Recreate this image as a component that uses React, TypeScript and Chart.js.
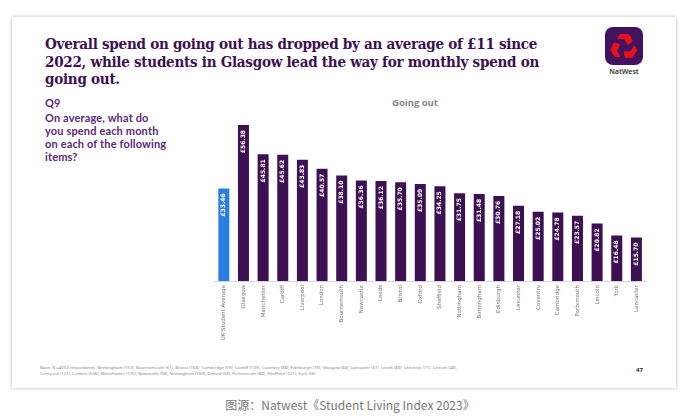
import React, { useEffect, useRef } from "react";
import { Chart, registerables } from "chart.js";

Chart.register(...registerables);

const categories = [
  "UK Student Average", "Glasgow", "Manchester", "Cardiff", "Liverpool", "London",
  "Bournemouth", "Newcastle", "Leeds", "Bristol", "Oxford", "Sheffield",
  "Nottingham", "Birmingham", "Edinburgh", "Leicester", "Coventry", "Cambridge",
  "Portsmouth", "Lincoln", "York", "Lancaster",
];
const spend = [
  33.46, 56.38, 45.81, 45.62, 43.83, 40.57, 38.1, 36.36, 36.12, 35.7, 35.09, 34.25,
  31.75, 31.48, 30.76, 27.18, 25.02, 24.78, 23.57, 20.82, 16.48, 15.7,
];
const yMin = 0;
const yMax = 60;

const PURPLE = "#3c1053";
const BLUE = "#2a7de1";

const valueLabels = {
  id: "valueLabels",
  afterDatasetsDraw(chart: any) {
    const ctx = chart.ctx;
    const meta = chart.getDatasetMeta(0);
    ctx.save();
    ctx.fillStyle = "#ffffff";
    ctx.font = "bold 6px 'DejaVu Sans', sans-serif";
    ctx.textAlign = "right";
    ctx.textBaseline = "middle";
    meta.data.forEach((bar: any, i: number) => {
      ctx.save();
      ctx.translate(bar.x, bar.y + 5);
      ctx.rotate(-Math.PI / 2);
      ctx.fillText("£" + spend[i].toFixed(2), 0, 0);
      ctx.restore();
    });
    ctx.restore();
  },
};

function BarChart() {
  const ref = useRef<HTMLCanvasElement>(null);
  useEffect(() => {
    if (!ref.current) return;
    const chart = new Chart(ref.current, {
      type: "bar",
      data: {
        labels: categories,
        datasets: [
          {
            data: spend,
            backgroundColor: categories.map((_, i) => (i === 0 ? BLUE : PURPLE)),
            barPercentage: 0.56,
            categoryPercentage: 1,
          },
        ],
      },
      options: {
        animation: false,
        responsive: false,
        devicePixelRatio: 1,
        layout: { padding: 0 },
        plugins: { legend: { display: false }, tooltip: { enabled: false } },
        scales: {
          x: {
            grid: { display: false, drawTicks: false },
            border: { display: true, color: "#d9d4de", width: 1 },
            ticks: {
              minRotation: 90,
              maxRotation: 90,
              padding: 4,
              color: "#777",
              font: { size: 5.5, family: "'DejaVu Sans', sans-serif" },
            },
            afterFit: (scale: any) => {
              scale.height = 80;
            },
          },
          y: { display: false, min: yMin, max: yMax },
        },
      },
      plugins: [valueLabels],
    });
    return () => chart.destroy();
  }, []);
  return (
    <canvas
      ref={ref}
      width={433}
      height={246}
      style={{ position: "absolute", left: 214, top: 115, width: 433, height: 246 }}
    />
  );
}

function Logo() {
  const piece = "M -4 -13 L 5 -13 L 9 -6 L 4 -2 L 0 -8 L -7 -8 Z";
  return (
    <svg width={38} height={38} style={{ position: "absolute", left: 605, top: 27 }}>
      <rect x={0} y={0} width={38} height={38} rx={8} fill="#42145f" />
      <g transform="translate(19,20)" fill="#e8111b">
        <path d={piece} />
        <path d={piece} transform="rotate(120)" />
        <path d={piece} transform="rotate(240)" />
      </g>
    </svg>
  );
}

export default function App() {
  return (
    <div
      style={{
        position: "fixed",
        left: 0,
        top: 0,
        width: 700,
        height: 420,
        background: "#ffffff",
        overflow: "hidden",
        fontFamily: "'Noto Sans', sans-serif",
      }}
    >
      <div
        style={{
          position: "absolute",
          left: 12,
          top: 17,
          width: 664,
          height: 371,
          background: "#fff",
          boxShadow: "0 0 4px rgba(0,0,0,0.28)",
        }}
      />
      <div
        style={{
          position: "absolute",
          left: 45,
          top: 35,
          color: PURPLE,
          fontFamily: "'DejaVu Serif', serif",
          fontWeight: 700,
          fontSize: 14.5,
          lineHeight: "17.5px",
          whiteSpace: "nowrap",
          letterSpacing: -0.3,
          transform: "scaleX(0.935)",
          transformOrigin: "0 0",
        }}
      >
        Overall spend on going out has dropped by an average of £11 since
        <br />
        2022, while students in Glasgow lead the way for monthly spend on
        <br />
        going out.
      </div>
      <Logo />
      <div
        style={{
          position: "absolute",
          left: 604,
          top: 67,
          width: 40,
          textAlign: "center",
          fontSize: 7,
          color: "#333",
          fontWeight: 600,
        }}
      >
        NatWest
      </div>
      <div
        style={{
          position: "absolute",
          left: 45,
          top: 96,
          color: "#5a287d",
          fontFamily: "Lato, sans-serif",
          fontWeight: 700,
          fontSize: 11,
          lineHeight: "14px",
          whiteSpace: "nowrap",
        }}
      >
        Q9
      </div>
      <div
        style={{
          position: "absolute",
          left: 45,
          top: 111,
          color: "#5a287d",
          fontFamily: "Lato, sans-serif",
          fontWeight: 700,
          fontSize: 11,
          lineHeight: "13px",
          whiteSpace: "nowrap",
          letterSpacing: 0.15,
        }}
      >
        On average, what do
        <br />
        you spend each month
        <br />
        on each of the following
        <br />
        items?
      </div>
      <div
        style={{
          position: "absolute",
          left: 380,
          top: 96,
          width: 70,
          textAlign: "center",
          color: "#888",
          fontFamily: "'Open Sans', sans-serif",
          fontWeight: 700,
          fontSize: 9.5,
        }}
      >
        Going out
      </div>
      <BarChart />
      <div
        style={{
          position: "absolute",
          left: 40,
          top: 364,
          color: "#888",
          fontSize: 4.3,
          lineHeight: "6px",
          whiteSpace: "nowrap",
        }}
      >
        Base: N =4053 respondents, Birmingham (153), Bournemouth (61), Bristol (168), Cambridge (59), Cardiff (139), Coventry (88), Edinburgh (79), Glasgow (80), Lancaster (57), Leeds (89), Leicester (71), Lincoln (48),
        <br />
        Liverpool (121), London (536), Manchester (175), Newcastle (99), Nottingham (169), Oxford (58), Portsmouth (88), Sheffield (121), York (56)
      </div>
      <div
        style={{
          position: "absolute",
          left: 636,
          top: 366,
          color: "#222",
          fontSize: 6,
          fontWeight: 700,
        }}
      >
        47
      </div>
      <div
        style={{
          position: "absolute",
          left: 0,
          top: 396,
          width: 700,
          textAlign: "center",
          color: "#777",
          fontFamily: "'Noto Sans CJK SC', sans-serif",
          fontSize: 12,
        }}
      >
        图源：Natwest《Student Living Index 2023》
      </div>
    </div>
  );
}
